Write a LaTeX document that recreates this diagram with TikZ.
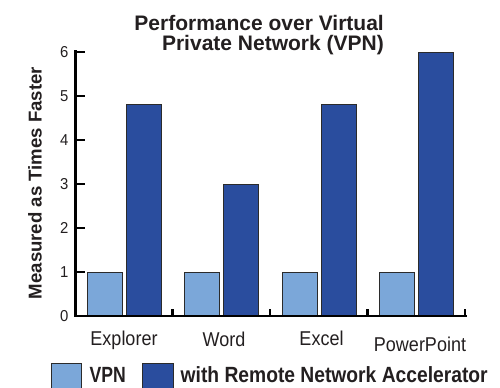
\documentclass[tikz,border=0pt]{standalone}
\usepackage{fontspec}
\setmainfont{Liberation Sans}
\newfontfamily\catfont{Liberation Sans}[FakeStretch=0.9]
\newfontfamily\legfont{Liberation Sans}[FakeStretch=0.875]
\newfontfamily\vpnfont{Liberation Sans}[FakeStretch=0.8]
\newfontfamily\digfont{Liberation Sans}[FakeStretch=0.94]
\definecolor{txt}{HTML}{231F20}
\definecolor{lightbar}{HTML}{7BA7D9}
\definecolor{darkbar}{HTML}{2A4D9E}
\definecolor{edge}{HTML}{2B2B2B}
\tikzset{
  lbl/.style={inner sep=0pt, text=txt},
  titletext/.style={lbl, anchor=base east, font=\fontsize{21bp}{25bp}\selectfont\bfseries},
  cattext/.style={lbl, anchor=base, font=\fontsize{20bp}{24bp}\selectfont\catfont},
  digtext/.style={lbl, anchor=east, font=\fontsize{15.8bp}{18bp}\selectfont\digfont},
  legtext/.style={lbl, anchor=base west},
  barlight/.style={fill=lightbar, draw=edge, line width=1bp},
  bardark/.style={fill=darkbar, draw=edge, line width=1bp},
  axisline/.style={draw=black, line width=2.2bp},
}
\begin{document}
\begin{tikzpicture}[x=1bp,y=-1bp]
\clip (0,0) rectangle (500,387);
\useasboundingbox (0,0) rectangle (500,387);
\fill[white] (0,0) rectangle (500,387);
% title
\node[titletext] (t1) at (384,30) {Performance over Virtual};
\node[titletext] (t2) at (384,50) {Private Network (VPN)};
% y label
\node[lbl, rotate=90, anchor=base, font=\fontsize{18.6bp}{22bp}\selectfont\bfseries] (ylab) at (41.5,183) {Measured as Times Faster};
% bars
\foreach \i/\h in {0/4.8,1/3,2/4.8,3/6}{
  \pgfmathsetmacro{\xs}{75+97.5*\i}
  \draw[barlight] (\xs+12,316) rectangle (\xs+47,272);
  \draw[bardark] (\xs+51,316) rectangle (\xs+86,316-44*\h);
}
% axes
\coordinate (origin) at (75.5,316);
\coordinate (ytop) at (75.5,51);
\coordinate (xend) at (466,316);
\draw[axisline, line cap=rect] (ytop) -- (origin) -- (xend);
\foreach \v in {0,...,6}{
  \draw[axisline] (75.5,316-44*\v) -- (85,316-44*\v);
  \node[digtext] (d\v) at (68.5,316-44*\v) {\v};
}
\foreach \i in {1,2,3,4}{
  \draw[axisline] (75+97.5*\i,316) -- (75+97.5*\i,308.5);
}
% category labels
\node[cattext] (c1) at (124,345) {Explorer};
\node[cattext] (c2) at (224,346) {Word};
\node[cattext] (c3) at (321.5,345) {Excel};
\node[cattext] (c4) at (420,351) {PowerPoint};
% legend
\draw[barlight] (51,363.5) rectangle (81,392);
\node[legtext, font=\fontsize{22bp}{26bp}\selectfont\vpnfont\bfseries] (lvpn) at (89.5,382.5) {VPN};
\draw[bardark] (142.5,363.5) rectangle (173,392);
\node[legtext, font=\fontsize{22bp}{26bp}\selectfont\legfont\bfseries] (lrna) at (180.5,382.5) {with Remote Network Accelerator};
\end{tikzpicture}
\end{document}
